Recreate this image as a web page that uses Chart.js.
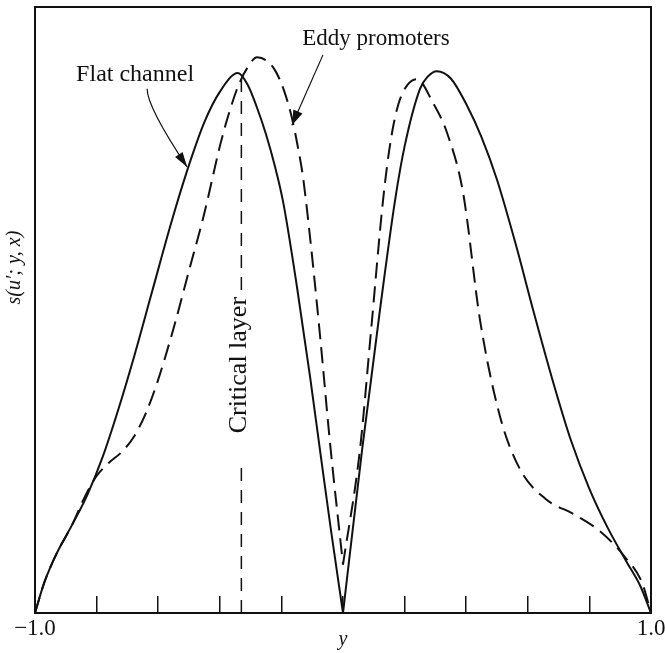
<!DOCTYPE html>
<html>
<head>
<meta charset="utf-8">
<title>s(u'; y, x)</title>
<script src="https://cdn.jsdelivr.net/npm/chart.js@4.4.1/dist/chart.umd.min.js"></script>
<style>
  html, body { margin: 0; padding: 0; background: #fff; }
  canvas { display: block; }
</style>
</head>
<body>
<canvas id="js-chart-spectrum" width="665" height="653"></canvas>
<script>
// Horizontal axis is the wall-normal coordinate y, vertical is s(u'; y, x)
const flatY = [-1.0, -0.97, -0.93, -0.88, -0.83, -0.78, -0.73, -0.68, -0.62, -0.56,
  -0.506, -0.45, -0.40, -0.341, -0.31, -0.28, -0.25, -0.22, -0.195, -0.15,
  -0.107, -0.075, -0.04, 0.0, 0.062, 0.12, 0.169, 0.20, 0.25, 0.275,
  0.305, 0.35, 0.40, 0.45, 0.50, 0.56, 0.62, 0.68, 0.74, 0.80,
  0.86, 0.92, 0.965, 1.0];
const flatS = [0, 0.05, 0.098, 0.145, 0.195, 0.258, 0.335, 0.42, 0.53, 0.64,
  0.73, 0.81, 0.86, 0.891, 0.872, 0.835, 0.79, 0.735, 0.68, 0.54,
  0.39, 0.27, 0.14, 0, 0.269, 0.50, 0.681, 0.77, 0.865, 0.885,
  0.894, 0.882, 0.84, 0.785, 0.715, 0.61, 0.495, 0.385, 0.285, 0.205,
  0.14, 0.085, 0.045, 0];

const eddyY = [-1.0, -0.97, -0.93, -0.88, -0.838, -0.80, -0.76, -0.72, -0.68, -0.64,
  -0.60, -0.55, -0.50, -0.45, -0.425, -0.40, -0.37, -0.34, -0.31, -0.279,
  -0.25, -0.22, -0.19, -0.165, -0.145, -0.13, -0.107, -0.075, -0.042, 0.0,
  0.055, 0.09, 0.13, 0.155, 0.18, 0.21, 0.24, 0.292, 0.338, 0.390,
  0.445, 0.510, 0.575, 0.656, 0.753, 0.834, 0.916, 0.971, 1.0];
const eddyS = [0, 0.05, 0.098, 0.145, 0.192, 0.226, 0.248, 0.265, 0.29, 0.33,
  0.385, 0.47, 0.565, 0.66, 0.715, 0.77, 0.825, 0.87, 0.90, 0.917,
  0.912, 0.895, 0.86, 0.815, 0.765, 0.72, 0.62, 0.46, 0.28, 0.08,
  0.269, 0.46, 0.681, 0.78, 0.84, 0.872, 0.881, 0.842, 0.792, 0.693,
  0.483, 0.324, 0.237, 0.189, 0.162, 0.135, 0.092, 0.05, 0];

// critical layer position, height, and the break left for its label
const criticalY = -0.33;
const criticalTop = 0.885;
const criticalGap = [0.248, 0.533];

const tickLabels = { '-1': '\u22121.0', '1': '1.0' };

const ink = '#111';
const serif = "'Liberation Serif', 'Times New Roman', serif";
Chart.defaults.font.family = serif;
Chart.defaults.color = ink;

// split a curve at its cusp (y = 0) so each side ends with a sharp point
function halves(ys, ss) {
  const cut = ys.indexOf(0);
  const pts = ys.map((v, i) => ({ x: v, y: ss[i] }));
  return [pts.slice(0, cut + 1), pts.slice(cut)];
}

function curve(data, dash) {
  return {
    data: data,
    borderColor: ink,
    borderWidth: 2,
    borderDash: dash,
    pointRadius: 0,
    fill: false,
    cubicInterpolationMode: 'monotone'
  };
}

function arrowHead(ctx, tx, ty, angle, len, half) {
  const bx = tx - len * Math.cos(angle), by = ty - len * Math.sin(angle);
  ctx.beginPath();
  ctx.moveTo(tx, ty);
  ctx.lineTo(bx + half * Math.sin(angle), by - half * Math.cos(angle));
  ctx.lineTo(bx - half * Math.sin(angle), by + half * Math.cos(angle));
  ctx.closePath();
  ctx.fill();
}

// frame, labels and pointer arrows
const annotations = {
  id: 'annotations',
  afterDraw(chart) {
    const { ctx, chartArea: area, scales: { x, y } } = chart;
    const at = (u, s) => [x.getPixelForValue(u), y.getPixelForValue(s)];
    ctx.save();
    ctx.strokeStyle = ink;
    ctx.fillStyle = ink;
    ctx.lineWidth = 2;
    ctx.strokeRect(area.left, area.top, area.right - area.left, area.bottom - area.top);

    ctx.textAlign = 'center';
    ctx.textBaseline = 'middle';

    // vertical axis title
    ctx.save();
    ctx.font = 'italic 20px ' + serif;
    ctx.translate(area.left - 20, y.getPixelForValue(0.57));
    ctx.rotate(-Math.PI / 2);
    ctx.fillText('s(u\u2032; y, x)', 0, 0);
    ctx.restore();

    ctx.font = '24px ' + serif;
    let [px, py] = at(-0.675, 0.888);
    ctx.fillText('Flat channel', px, py);
    ctx.font = '23px ' + serif;
    [px, py] = at(0.107, 0.947);
    ctx.fillText('Eddy promoters', px, py);

    ctx.save();
    ctx.font = '26px ' + serif;
    [px, py] = at(criticalY - 0.006, 0.409);
    ctx.translate(px, py);
    ctx.rotate(-Math.PI / 2);
    ctx.fillText('Critical layer', 0, 0);
    ctx.restore();

    ctx.lineWidth = 1.2;
    // curved pointer to the solid curve
    const [sx, sy] = at(-0.636, 0.865);
    const [cx, cy] = at(-0.636, 0.835);
    const [ex, ey] = at(-0.506, 0.736);
    ctx.beginPath();
    ctx.moveTo(sx, sy);
    ctx.quadraticCurveTo(cx, cy, ex, ey);
    ctx.stroke();
    arrowHead(ctx, ex, ey, Math.atan2(ey - cy, ex - cx), 15, 4.5);

    // straight pointer to the dashed curve
    const [ax, ay] = at(-0.065, 0.921);
    const [bx, by] = at(-0.166, 0.805);
    ctx.beginPath();
    ctx.moveTo(ax, ay);
    ctx.lineTo(bx, by);
    ctx.stroke();
    arrowHead(ctx, bx, by, Math.atan2(by - ay, bx - ax), 15, 5);
    ctx.restore();
  }
};

const flat = halves(flatY, flatS);
const eddy = halves(eddyY, eddyS);

new Chart(document.getElementById('js-chart-spectrum'), {
  type: 'line',
  data: {
    datasets: [
      curve(flat[0], []),
      curve(flat[1], []),
      curve(eddy[0], [16, 8]),
      curve(eddy[1], [16, 8]),
      {
        data: [
          { x: criticalY, y: 0 },
          { x: criticalY, y: criticalGap[0] },
          { x: criticalY, y: null },
          { x: criticalY, y: criticalGap[1] },
          { x: criticalY, y: criticalTop }
        ],
        borderColor: ink,
        borderWidth: 1.5,
        borderDash: [13, 9],
        pointRadius: 0,
        tension: 0
      }
    ]
  },
  options: {
    responsive: false,
    animation: false,
    layout: { padding: { top: 7, right: 14, left: 0, bottom: 0 } },
    plugins: { legend: { display: false }, tooltip: { enabled: false } },
    scales: {
      x: {
        type: 'linear',
        min: -1,
        max: 1,
        afterFit(scale) {
          scale.height = 40;
          scale.paddingLeft = 0;
          scale.paddingRight = 0;
        },
        ticks: {
          stepSize: 0.2,
          autoSkip: false,
          maxRotation: 0,
          padding: 19,
          font: { size: 23 },
          callback: (v) => tickLabels[String(Math.round(v * 10) / 10)] || ''
        },
        grid: {
          display: true,
          drawOnChartArea: false,
          drawTicks: true,
          tickLength: -17,
          color: ink,
          lineWidth: 1.5
        },
        border: { display: false },
        title: {
          display: true,
          text: 'y',
          font: { size: 20, style: 'italic' },
          padding: { top: 0, bottom: 1 }
        }
      },
      y: {
        type: 'linear',
        min: 0,
        max: 1,
        afterFit(scale) { scale.width = 35; },
        ticks: { display: false },
        grid: { display: false, drawTicks: false },
        border: { display: false }
      }
    }
  },
  plugins: [annotations]
});
</script>
</body>
</html>
